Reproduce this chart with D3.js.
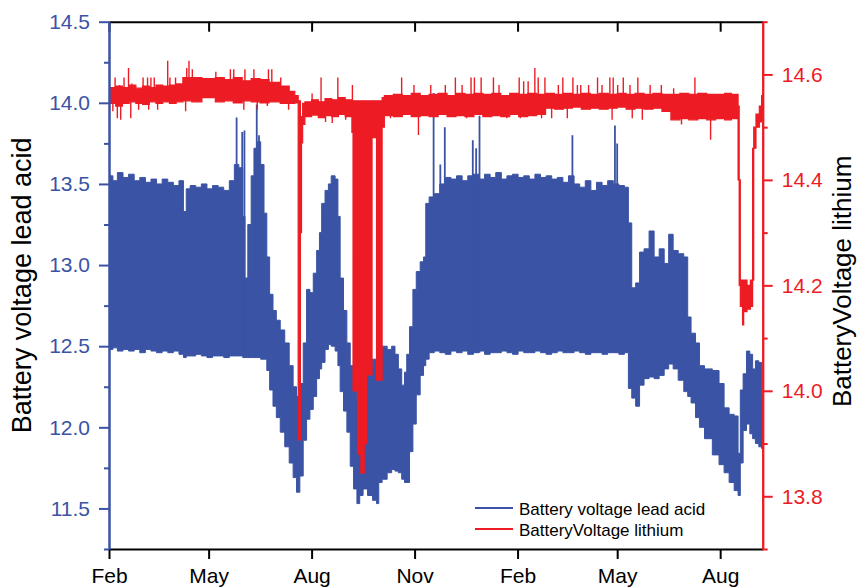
<!DOCTYPE html>
<html>
<head>
<meta charset="utf-8">
<script src="https://cdn.jsdelivr.net/npm/d3@7"></script>
<style>
  body { margin: 0; background: #fff; }
  svg text { font-family: Arial, "Liberation Sans", sans-serif; }
</style>
</head>
<body>
<svg id="chart" width="858" height="588"></svg>
<script>
// days are counted from 1 Feb 2018
const startDate = new Date(Date.UTC(2018, 1, 1));
const lastDay = 584;

const tickDates = ["2018-02-01", "2018-05-01", "2018-08-01", "2018-11-01",
                   "2019-02-01", "2019-05-01", "2019-08-01"];

const leftMajor = [11.5, 12.0, 12.5, 13.0, 13.5, 14.0, 14.5];
const leftMinor = [11.25, 11.75, 12.25, 12.75, 13.25, 13.75, 14.25];
const rightMajor = [13.8, 14.0, 14.2, 14.4, 14.6];
const rightMinor = [13.7, 13.9, 14.1, 14.3, 14.5, 14.7];

const seriesNames = ["Battery voltage lead acid", "BatteryVoltage lithium"];

// lead acid battery: daily high / low envelope
const leadDays = [0,2,5,10,15,20,25,30,35,40,45,50,55,60,65,68,70,75,80,85,90,95,100,105,110,114,118,121,122,126,
  128,131,134,137,140,142,145,148,151,155,159,163,166,169,172,175,178,181,184,187,189,191,195,197,200,204,205,208,211,214,
  217,220,223,225,229,233,238,240,242,246,251,254,257,260,263,265,267,270,273,276,280,282,284,288,293,298,303,308,313,318,
  323,328,333,338,343,348,353,358,363,368,373,378,383,388,393,398,403,408,413,418,423,428,433,438,443,448,453,458,463,465,
  469,472,476,480,485,489,494,498,502,506,511,516,518,522,526,529,535,543,547,552,556,561,563,565,568,571,574,576,579,582,584];
const leadHigh = [13.32,13.55,13.52,13.57,13.54,13.56,13.52,13.54,13.51,13.53,13.50,13.53,13.51,13.49,13.52,13.33,13.47,13.49,13.48,13.50,
  13.47,13.49,13.48,13.46,13.52,13.62,13.60,13.30,12.92,13.25,13.55,13.72,13.76,13.62,13.32,13.05,12.82,12.72,12.66,12.60,
  12.52,12.38,12.25,12.19,12.27,12.52,12.85,12.83,12.95,13.09,13.20,13.38,13.46,13.50,13.55,13.53,13.30,12.92,12.72,12.52,
  12.38,12.27,12.17,12.22,12.36,12.40,12.42,12.46,12.46,12.50,12.48,12.50,12.45,12.36,12.26,12.34,12.45,12.62,12.85,12.96,
  13.02,13.05,13.38,13.42,13.44,13.50,13.54,13.53,13.55,13.52,13.55,13.56,13.53,13.56,13.54,13.57,13.53,13.55,13.56,13.54,
  13.55,13.53,13.56,13.54,13.55,13.53,13.54,13.51,13.55,13.50,13.48,13.52,13.46,13.51,13.49,13.52,13.50,13.49,13.48,13.26,
  12.86,12.89,13.08,13.10,13.21,13.05,13.10,13.01,13.19,13.09,13.07,13.05,12.68,12.58,12.52,12.38,12.36,12.35,12.27,12.12,
  12.08,12.07,11.84,12.23,12.33,12.47,12.45,12.36,12.41,12.40,12.20];
const leadLow = [12.49,12.48,12.49,12.47,12.48,12.47,12.48,12.46,12.48,12.47,12.46,12.47,12.46,12.47,12.45,12.43,12.44,12.44,12.45,12.44,
  12.43,12.44,12.44,12.43,12.44,12.44,12.44,12.43,12.43,12.43,12.43,12.43,12.43,12.42,12.42,12.35,12.23,12.13,12.06,11.97,
  11.88,11.78,11.69,11.60,11.70,11.92,12.05,12.11,12.19,12.30,12.36,12.40,12.48,12.51,12.50,12.47,12.38,12.22,12.10,11.97,
  11.76,11.62,11.53,11.58,11.62,11.58,11.55,11.53,11.66,11.68,11.72,11.74,11.73,11.72,11.68,11.66,11.66,11.85,12.02,12.20,
  12.32,12.38,12.42,12.46,12.47,12.46,12.45,12.47,12.46,12.47,12.45,12.46,12.47,12.45,12.46,12.46,12.47,12.46,12.45,12.47,
  12.46,12.46,12.47,12.46,12.45,12.46,12.47,12.46,12.46,12.47,12.46,12.45,12.46,12.46,12.45,12.46,12.46,12.45,12.46,12.24,
  12.18,12.13,12.26,12.30,12.31,12.30,12.32,12.36,12.39,12.36,12.29,12.22,12.19,12.15,12.06,12.00,11.93,11.83,11.77,11.72,
  11.66,11.61,11.58,11.78,11.98,12.02,11.96,11.93,11.90,11.88,11.87];

// single-day peaks of the lead acid battery
const leadSpikeDays = [114,119,121,132,134,290,296,300,325,328,331,414,452,454];
const leadSpikeTops = [13.91,13.82,13.83,13.99,13.80,14.06,13.62,13.85,13.77,13.72,13.92,13.80,13.86,13.75];

// lithium battery: band of the readings
const lithDays = [0,6,12,18,24,30,36,42,48,54,60,66,74,83,95,103,111,119,127,135,143,153,161,166,169,171,172,173,175,181,
  187,193,199,205,211,217,218,221,222,225,228,230,235,239,244,246,254,262,270,278,286,294,302,310,318,326,334,342,350,358,
  366,374,382,390,398,406,414,422,430,438,446,454,462,470,478,486,494,502,510,518,526,534,542,550,556,562,563,564,566,567,
  570,573,575,576,578,581,583,584];
const lithLow = [14.545,14.540,14.545,14.548,14.545,14.543,14.548,14.545,14.548,14.545,14.548,14.550,14.548,14.556,14.548,14.550,14.546,14.550,14.548,14.546,
  14.548,14.545,14.545,14.546,13.907,14.300,14.470,14.505,14.520,14.523,14.518,14.522,14.520,14.524,14.520,14.490,14.000,14.450,13.880,13.844,
  13.900,14.030,14.480,14.020,14.500,14.522,14.520,14.524,14.520,14.522,14.520,14.524,14.520,14.522,14.520,14.524,14.520,14.522,14.520,14.524,
  14.520,14.522,14.524,14.536,14.534,14.536,14.538,14.534,14.536,14.534,14.536,14.538,14.534,14.536,14.534,14.536,14.530,14.514,14.516,14.514,
  14.516,14.514,14.516,14.514,14.516,14.400,14.200,14.160,14.125,14.150,14.155,14.160,14.210,14.460,14.500,14.510,14.530,14.530];
const lithHigh = [14.575,14.578,14.575,14.580,14.574,14.578,14.575,14.580,14.578,14.580,14.582,14.594,14.594,14.592,14.594,14.590,14.594,14.588,14.592,14.590,
  14.585,14.578,14.568,14.560,14.550,14.500,14.520,14.545,14.548,14.552,14.548,14.554,14.552,14.556,14.552,14.550,14.550,14.550,14.550,14.550,
  14.550,14.550,14.550,14.550,14.556,14.560,14.562,14.560,14.564,14.560,14.562,14.564,14.560,14.564,14.562,14.564,14.562,14.564,14.560,14.564,
  14.562,14.564,14.562,14.564,14.562,14.564,14.562,14.564,14.562,14.564,14.562,14.564,14.562,14.564,14.562,14.564,14.562,14.562,14.564,14.562,
  14.564,14.562,14.562,14.564,14.562,14.540,14.400,14.210,14.200,14.210,14.200,14.210,14.460,14.500,14.525,14.540,14.560,14.560];

// short excursions of the lithium reading, up and down
const lithSpikeDays = [5,9,13,17,20,30,34,37,40,52,54,59,69,71,74,95,108,111,121,129,142,145,153,181,189,204,217,261,272,287,
  300,309,315,323,326,332,343,348,366,370,374,380,383,389,401,405,414,418,421,428,436,440,447,450,454,459,465,472,483,493,
  504,523,3,7,10,19,26,35,43,68,120,132,141,160,193,199,211,251,276,319,355,367,386,395,409,449,467,476,511,537];
const lithSpikeVals = [14.594,14.580,14.594,14.612,14.583,14.594,14.594,14.594,14.594,14.626,14.594,14.594,14.612,14.626,14.610,14.605,14.610,14.610,14.610,14.610,
  14.610,14.610,14.594,14.564,14.594,14.594,14.580,14.594,14.580,14.580,14.580,14.594,14.580,14.594,14.594,14.594,14.594,14.580,14.594,14.587,
  14.587,14.612,14.594,14.594,14.580,14.594,14.594,14.580,14.580,14.580,14.594,14.580,14.594,14.594,14.580,14.594,14.580,14.594,14.580,14.580,
  14.574,14.594,14.530,14.517,14.514,14.517,14.533,14.533,14.533,14.530,14.533,14.533,14.540,14.533,14.510,14.508,14.514,14.517,14.485,14.517,
  14.517,14.517,14.517,14.517,14.517,14.514,14.517,14.514,14.505,14.476];

const blue = "#3a53a4";
const red = "#ed1c24";

const plot = { left: 109, right: 762.7, top: 21.7, bottom: 549 };

const dayDate = d => d3.utcDay.offset(startDate, d);
const x = d3.scaleUtc().domain([startDate, dayDate(lastDay)]).range([plot.left, plot.right]);
const yL = d3.scaleLinear().domain([11.25, 14.5]).range([plot.bottom, plot.top]);
const yR = d3.scaleLinear().domain([13.7, 14.7]).range([plot.bottom, plot.top]);

function stepValue(days, vals, d) {
  const i = Math.max(0, d3.bisectRight(days, d) - 1);
  return vals[i];
}

const svg = d3.select("#chart");

svg.append("clipPath").attr("id", "plot-clip")
  .append("rect")
  .attr("x", plot.left).attr("y", plot.top)
  .attr("width", plot.right - plot.left).attr("height", plot.bottom - plot.top);

const series = svg.append("g").attr("clip-path", "url(#plot-clip)");

// lead acid envelope
const leadArea = d3.area()
  .curve(d3.curveStep)
  .x(i => x(dayDate(leadDays[i])))
  .y0(i => yL(leadLow[i]))
  .y1(i => yL(leadHigh[i]));

series.append("path")
  .attr("d", leadArea(d3.range(leadDays.length)))
  .attr("fill", blue)
  .attr("stroke", blue)
  .attr("stroke-width", 1);

series.append("g").selectAll("line")
  .data(leadSpikeDays)
  .join("line")
  .attr("x1", d => x(dayDate(d))).attr("x2", d => x(dayDate(d)))
  .attr("y1", d => yL(stepValue(leadDays, leadLow, d)))
  .attr("y2", (d, i) => yL(leadSpikeTops[i]))
  .attr("stroke", blue)
  .attr("stroke-width", 1.8);

// lithium band
const lithArea = d3.area()
  .curve(d3.curveStepAfter)
  .x(i => x(dayDate(lithDays[i])))
  .y0(i => yR(lithLow[i]))
  .y1(i => yR(lithHigh[i]));

series.append("path")
  .attr("d", lithArea(d3.range(lithDays.length)))
  .attr("fill", red)
  .attr("stroke", red)
  .attr("stroke-width", 1.2);

series.append("g").selectAll("line")
  .data(lithSpikeDays)
  .join("line")
  .attr("x1", d => x(dayDate(d)) + 0.5).attr("x2", d => x(dayDate(d)) + 0.5)
  .attr("y1", d => yR((stepValue(lithDays, lithLow, d) + stepValue(lithDays, lithHigh, d)) / 2))
  .attr("y2", (d, i) => yR(lithSpikeVals[i]))
  .attr("stroke", red)
  .attr("stroke-width", 1.4);

// axes
function styleAxis(g, color) {
  g.select(".domain").attr("stroke", color).attr("stroke-width", 2);
  g.selectAll(".tick line").attr("stroke", color).attr("stroke-width", 2);
  g.selectAll(".tick text").attr("fill", color).attr("font-size", 21);
}

const tickDateObjs = tickDates.map(s => new Date(s + "T00:00:00Z"));

svg.append("g")
  .attr("transform", `translate(0,${plot.top})`)
  .call(d3.axisBottom(x).tickValues(tickDateObjs).tickSize(10).tickSizeOuter(0).tickFormat(""))
  .call(g => styleAxis(g, "#000"));

svg.append("g")
  .attr("transform", `translate(0,${plot.bottom})`)
  .call(d3.axisBottom(x).tickValues(tickDateObjs).tickSize(10).tickSizeOuter(0)
    .tickPadding(9).tickFormat(d3.utcFormat("%b")))
  .call(g => styleAxis(g, "#000"));

svg.append("g")
  .attr("transform", `translate(${plot.left},0)`)
  .call(d3.axisLeft(yL).tickValues(leftMinor).tickSize(5).tickSizeOuter(0).tickFormat(""))
  .call(g => styleAxis(g, blue));

svg.append("g")
  .attr("transform", `translate(${plot.left},0)`)
  .call(d3.axisLeft(yL).tickValues(leftMajor).tickSize(10).tickSizeOuter(0)
    .tickPadding(9).tickFormat(d3.format(".1f")))
  .call(g => styleAxis(g, blue));

svg.append("g")
  .attr("transform", `translate(${plot.right},0)`)
  .call(d3.axisRight(yR).tickValues(rightMinor).tickSize(5).tickSizeOuter(0).tickFormat(""))
  .call(g => styleAxis(g, red));

svg.append("g")
  .attr("transform", `translate(${plot.right},0)`)
  .call(d3.axisRight(yR).tickValues(rightMajor).tickSize(10).tickSizeOuter(0)
    .tickPadding(9).tickFormat(d3.format(".1f")))
  .call(g => styleAxis(g, red));

// axis titles
const midY = (plot.top + plot.bottom) / 2;
svg.append("text")
  .attr("transform", `translate(31,${midY}) rotate(-90)`)
  .attr("text-anchor", "middle")
  .attr("font-size", 27)
  .attr("fill", "#000")
  .text(seriesNames[0]);

svg.append("text")
  .attr("transform", `translate(851,${midY - 4}) rotate(-90)`)
  .attr("text-anchor", "middle")
  .attr("font-size", 26)
  .attr("fill", "#000")
  .text(seriesNames[1]);

// legend
const legend = svg.append("g").attr("transform", "translate(475,508)");
[blue, red].forEach((c, i) => {
  const row = legend.append("g").attr("transform", `translate(0,${i * 21})`);
  row.append("line").attr("x1", 0).attr("x2", 38).attr("stroke", c).attr("stroke-width", 2);
  row.append("text").attr("x", 44).attr("y", 6.5).attr("font-size", 17).attr("fill", "#000")
    .text(seriesNames[i]);
});
</script>
</body>
</html>
